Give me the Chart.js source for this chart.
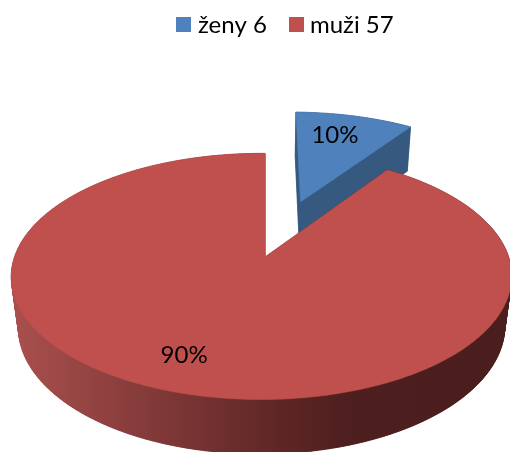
<!DOCTYPE html>
<html>
<head>
<meta charset="utf-8">
<style>
  html, body { margin: 0; padding: 0; background: #fff; overflow: hidden; }
  canvas { display: block; }
</style>
<script src="https://cdn.jsdelivr.net/npm/chart.js@4"></script>
</head>
<body>
<canvas id="pie" width="510" height="452"></canvas>
<script>
const categories = ["ženy", "muži"];
const counts = [6, 57];
const colors = ["#4f81bd", "#c0504d"];
const sideColors = ["#35597f", null];
const explodeU = [0.155, 0];
const explodeV = [-0.495, 0];
const labelSpots = [{ u: 0.339, v: -1.217 }, { u: -0.289, v: 0.72 }];

// camera used to flatten the pie into the tilted disc
const cam = { x: 265, y: 257, rx: 247, ry: 120, k: 0.158, m: -0.014, depth: 0.028, drop: 51.4 };
const legendSpots = [{ box: 176, text: 198 }, { box: 289, text: 310 }];

function project(u, v, bottom) {
  const w = 1 - cam.k * v - cam.m * u + (bottom ? cam.depth : 0);
  return {
    x: cam.x + cam.rx * u / w,
    y: cam.y + (cam.ry * v + (bottom ? cam.drop : 0)) / w,
  };
}

function arcPoints(start, end, off, bottom) {
  const pts = [];
  const n = Math.ceil((end - start) / 0.01);
  for (let i = 0; i <= n; i++) {
    const a = start + (end - start) * i / n;
    pts.push(project(off.u + Math.cos(a), off.v + Math.sin(a), bottom));
  }
  return pts;
}

function fillPoly(ctx, pts, fill) {
  ctx.beginPath();
  pts.forEach((p, i) => (i ? ctx.lineTo(p.x, p.y) : ctx.moveTo(p.x, p.y)));
  ctx.closePath();
  ctx.fillStyle = fill;
  ctx.strokeStyle = fill;
  ctx.lineWidth = 0.5;
  ctx.fill();
  ctx.stroke();
}

function redSideGradient(ctx) {
  const g = ctx.createLinearGradient(18, 0, 510, 0);
  g.addColorStop(0, "#a84f4d");
  g.addColorStop(0.48, "#652a29");
  g.addColorStop(0.67, "#4d1f1e");
  g.addColorStop(1, "#4a1e1d");
  return g;
}

// draws the arcs chart.js laid out as a 3d disc
const tiltedPie = {
  id: "tiltedPie",
  beforeDatasetDraw(chart) {
    const ctx = chart.ctx;
    const arcs = chart.getDatasetMeta(0).data;
    const total = counts.reduce((a, b) => a + b, 0);

    arcs.forEach((arc, i) => {
      const { startAngle, endAngle } = arc.getProps(["startAngle", "endAngle"], true);
      const off = { u: explodeU[i], v: explodeV[i] };
      const topArc = arcPoints(startAngle, endAngle, off, false);
      const botArc = arcPoints(startAngle, endAngle, off, true);
      const side = sideColors[i] || redSideGradient(ctx);
      const apexTop = project(off.u, off.v, false);
      const apexBot = project(off.u, off.v, true);

      fillPoly(ctx, [apexBot, ...botArc], side);
      for (let s = 1; s < topArc.length; s++) {
        fillPoly(ctx, [topArc[s - 1], topArc[s], botArc[s], botArc[s - 1]], side);
      }
      fillPoly(ctx, [apexTop, topArc[0], botArc[0], apexBot], side);
      fillPoly(ctx, [apexTop, topArc[topArc.length - 1], botArc[botArc.length - 1], apexBot], side);
      fillPoly(ctx, [apexTop, ...topArc], colors[i]);
    });

    ctx.fillStyle = "#000";
    ctx.font = "24px Lato";
    ctx.textAlign = "center";
    ctx.textBaseline = "middle";
    counts.forEach((c, i) => {
      const p = project(labelSpots[i].u, labelSpots[i].v, false);
      ctx.fillText(Math.round(c / total * 100) + "%", p.x, p.y);
    });

    // legend sits off centre with a tighter box to text gap than the stock one
    ctx.textAlign = "left";
    ctx.textBaseline = "alphabetic";
    chart.data.labels.forEach((label, i) => {
      ctx.fillStyle = colors[i];
      ctx.fillRect(legendSpots[i].box, 17, 15, 15);
      ctx.fillStyle = "#000";
      ctx.fillText(label, legendSpots[i].text, 33);
    });
    return false;
  },
};

new Chart(document.getElementById("pie"), {
  type: "pie",
  data: {
    labels: categories.map((name, i) => `${name} ${counts[i]}`),
    datasets: [{ data: counts, backgroundColor: colors, borderWidth: 0 }],
  },
  options: {
    responsive: false,
    animation: false,
    plugins: {
      tooltip: { enabled: false },
      legend: { display: false },
    },
  },
  plugins: [tiltedPie],
});
</script>
</body>
</html>
